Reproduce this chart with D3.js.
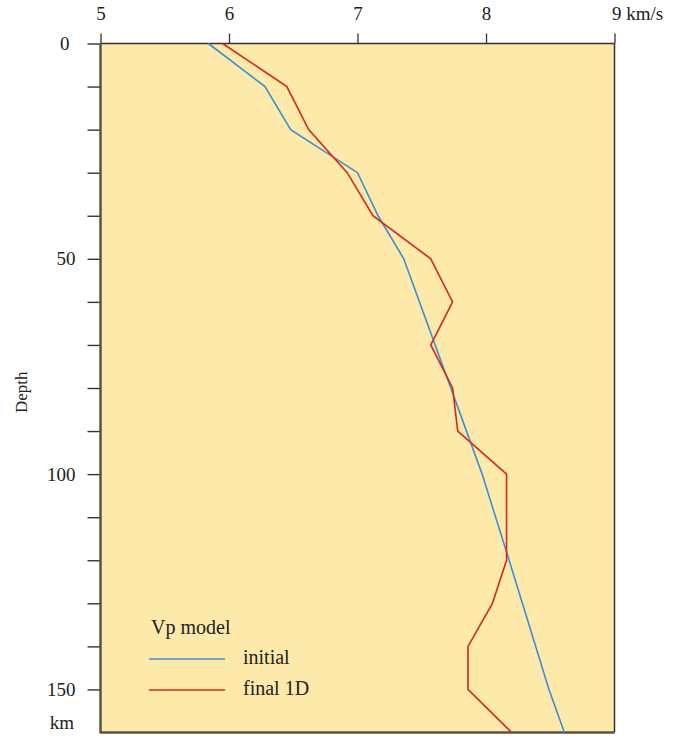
<!DOCTYPE html>
<html><head><meta charset="utf-8">
<script src="https://cdn.jsdelivr.net/npm/d3@7"></script>
<style>body{margin:0;background:#fff}svg text{font-family:"Liberation Serif","Times New Roman",serif;fill:#222}</style>
</head><body><svg id="c" width="674" height="740"></svg>
<script>
const velTicks = [5, 6, 7, 8, 9];
const velTickLabels = ["5", "6", "7", "8", "9 km/s"];
const depthTicks = [0,10,20,30,40,50,60,70,80,90,100,110,120,130,140,150];
const depthLabels = [0, 50, 100, 150];
const initialDepth = [0, 10, 20, 30, 40, 50, 100, 120, 150, 160];
const initialVp   = [5.84, 6.28, 6.48, 7.0, 7.16, 7.36, 7.97, 8.18, 8.49, 8.61];
const finalDepth = [0, 10, 20, 30, 40, 50, 60, 70, 80, 90, 100, 120, 130, 140, 150, 160];
const finalVp    = [5.95, 6.45, 6.62, 6.92, 7.12, 7.57, 7.74, 7.57, 7.74, 7.78, 8.16, 8.16, 8.05, 7.86, 7.86, 8.2];
const legendLabels = ["initial", "final 1D"];
const legendTitle = "Vp model";

const svg = d3.select("#c");
const L = 100.5, R = 614.5, T = 43.5, B = 732.5;
const x = d3.scaleLinear().domain([5, 9]).range([L, R]);
const y = d3.scaleLinear().domain([0, 160]).range([T, B]);

svg.append("rect").attr("x", L).attr("y", T).attr("width", R - L).attr("height", B - T).attr("fill", "#fde9a9");

// top axis
const xa = svg.append("g").attr("transform", `translate(0,${T})`)
  .call(d3.axisTop(x).tickValues(velTicks).tickSize(10).tickPadding(14).tickFormat((d, i) => velTickLabels[i]));
xa.select(".domain").remove();
xa.selectAll(".tick line").attr("stroke", "#333").attr("stroke-width", 1.3);
xa.selectAll(".tick text").style("font-size", "19px").attr("dy", "0");
xa.selectAll(".tick text").filter((d, i) => i === 4).attr("text-anchor", "start").attr("dx", "-3");

// left axis
const ya = svg.append("g").attr("transform", `translate(${L},0)`)
  .call(d3.axisLeft(y).tickValues(depthTicks).tickSize(13).tickPadding(12)
    .tickFormat(d => depthLabels.includes(d) ? d : ""));
ya.select(".domain").remove();
ya.selectAll(".tick line").attr("stroke", "#333").attr("stroke-width", 1.4);
ya.selectAll(".tick text").style("font-size", "19px");
ya.selectAll(".tick text").filter(d => d === 0).attr("dx", "-6");

svg.append("text").attr("x", 62).attr("y", 725).attr("text-anchor", "middle")
  .attr("dominant-baseline", "middle").style("font-size", "19px").text("km");
svg.append("text").attr("transform", `translate(27,${y(81)}) rotate(-90)`).attr("text-anchor", "middle")
  .style("font-size", "17px").text("Depth");

// frame
svg.append("line").attr("x1", L).attr("x2", R).attr("y1", T).attr("y2", T).attr("stroke", "#333").attr("stroke-width", 1.5);
svg.append("line").attr("x1", R).attr("x2", R).attr("y1", T).attr("y2", B).attr("stroke", "#333").attr("stroke-width", 1.5);
svg.append("line").attr("x1", L).attr("x2", L).attr("y1", T).attr("y2", B + 1).attr("stroke", "#5a5244").attr("stroke-width", 2.5);
svg.append("line").attr("x1", L).attr("x2", R).attr("y1", B).attr("y2", B).attr("stroke", "#5a5244").attr("stroke-width", 2.5);

const line = d3.line().x(d => x(d[1])).y(d => y(d[0]));
svg.append("path").datum(initialDepth.map((d, i) => [d, initialVp[i]]))
  .attr("d", line).attr("fill", "none").attr("stroke", "#3b8fd6").attr("stroke-width", 1.6);
svg.append("path").datum(finalDepth.map((d, i) => [d, finalVp[i]]))
  .attr("d", line).attr("fill", "none").attr("stroke", "#d4281c").attr("stroke-width", 1.6);

// legend
const colors = ["#3b8fd6", "#d4281c"];
svg.append("text").attr("x", 151).attr("y", 634).style("font-size", "20px").text(legendTitle);
legendLabels.forEach((lab, i) => {
  const yy = 659 + i * 31;
  svg.append("line").attr("x1", 149).attr("x2", 225).attr("y1", yy).attr("y2", yy).attr("stroke", colors[i]).attr("stroke-width", 1.6);
  svg.append("text").attr("x", 243).attr("y", yy).attr("dominant-baseline", "middle").style("font-size", "20px").text(lab);
});
</script></body></html>
